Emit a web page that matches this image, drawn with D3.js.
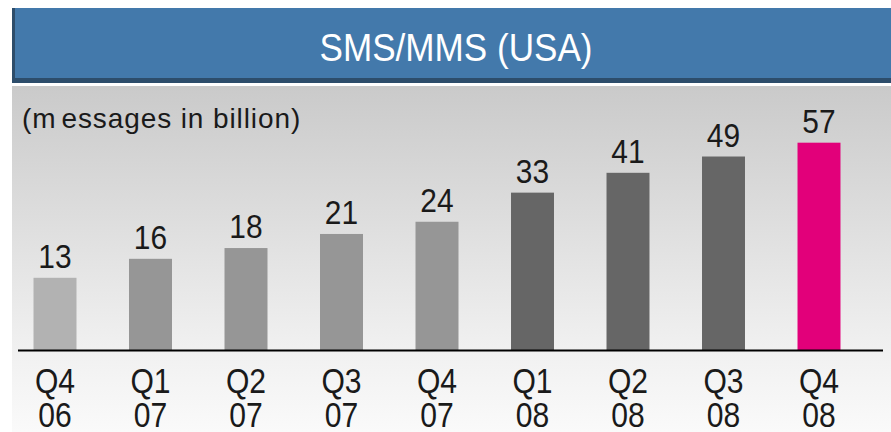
<!DOCTYPE html>
<html><head><meta charset="utf-8">
<script src="https://cdn.jsdelivr.net/npm/d3@7"></script>
<style>
html,body{margin:0;padding:0;background:#fff;}
svg text{font-family:"Liberation Sans Narrow","Liberation Sans",Arial,sans-serif;}
</style></head>
<body><svg id="c" width="891" height="432"></svg>
<script>
const title = "SMS/MMS (USA)";
const unitLabel = "(messages in billion)";
const quarters = ["Q4","Q1","Q2","Q3","Q4","Q1","Q2","Q3","Q4"];
const years = ["06","07","07","07","07","08","08","08","08"];
const values = [13,16,18,21,24,33,41,49,57];
const barColors = ["#b2b2b2","#969696","#969696","#969696","#969696","#666666","#666666","#666666","#e2007a"];

const W = 891, H = 432, baseY = 350;
const svg = d3.select("#c");
const defs = svg.append("defs");
const g = defs.append("linearGradient").attr("id","bg").attr("x1",0).attr("y1",0).attr("x2",0).attr("y2",1);
g.append("stop").attr("offset","0%").attr("stop-color","#cacaca");
g.append("stop").attr("offset","75%").attr("stop-color","#f0f0f0");
g.append("stop").attr("offset","100%").attr("stop-color","#fafafa");

// background panel
svg.append("rect").attr("x",12).attr("y",86).attr("width",W-12).attr("height",H-86).attr("fill","url(#bg)");

// header
svg.append("rect").attr("x",12).attr("y",8).attr("width",W-12).attr("height",75).attr("fill","#2d4d6b");
svg.append("rect").attr("x",15).attr("y",8).attr("width",W-15).attr("height",70).attr("fill","#4379ab");

function label(parent, x, y, sx, size, txt, anchor){
  const gg = parent.append("g").attr("transform",`translate(${x},${y}) scale(${sx},1)`);
  return gg.append("text").attr("text-anchor",anchor||"middle").attr("font-size",size).text(txt);
}
label(svg, 456, 61, 0.9, 39, title).attr("fill","#ffffff");

// unit label
const ut = svg.append("text").attr("x",22).attr("y",128).attr("font-size",28)
  .attr("letter-spacing",0.9).attr("fill","#1a1a1a");
ut.append("tspan").text(unitLabel.slice(0,2));
ut.append("tspan").attr("dx",5).text(unitLabel.slice(2));

const keys = quarters.map((q,i)=>i);
const x = d3.scaleBand().domain(keys).range([7.25, 866.75]).paddingInner(0.55).paddingOuter(0.275);
const y = d3.scaleLog().domain([5.9, 60]).range([baseY, 138]);

svg.selectAll("rect.bar").data(values).join("rect").attr("class","bar")
  .attr("x",(d,i)=>x(i)).attr("width",x.bandwidth())
  .attr("y",d=>y(d)).attr("height",d=>baseY-y(d))
  .attr("fill",(d,i)=>barColors[i]);

values.forEach((d,i)=>{
  label(svg, x(i)+x.bandwidth()/2, y(d)-10, 0.88, 34, d).attr("fill","#1a1a1a");
});

// baseline
svg.append("line").attr("x1",18).attr("x2",883).attr("y1",baseY+0.5).attr("y2",baseY+0.5)
  .attr("stroke","#000").attr("stroke-width",2);

quarters.forEach((q,i)=>{
  const cx = x(i)+x.bandwidth()/2;
  label(svg, cx, 393, 0.86, 35, q).attr("fill","#1a1a1a");
  label(svg, cx, 427, 0.86, 35, years[i]).attr("fill","#1a1a1a");
});
</script></body></html>
